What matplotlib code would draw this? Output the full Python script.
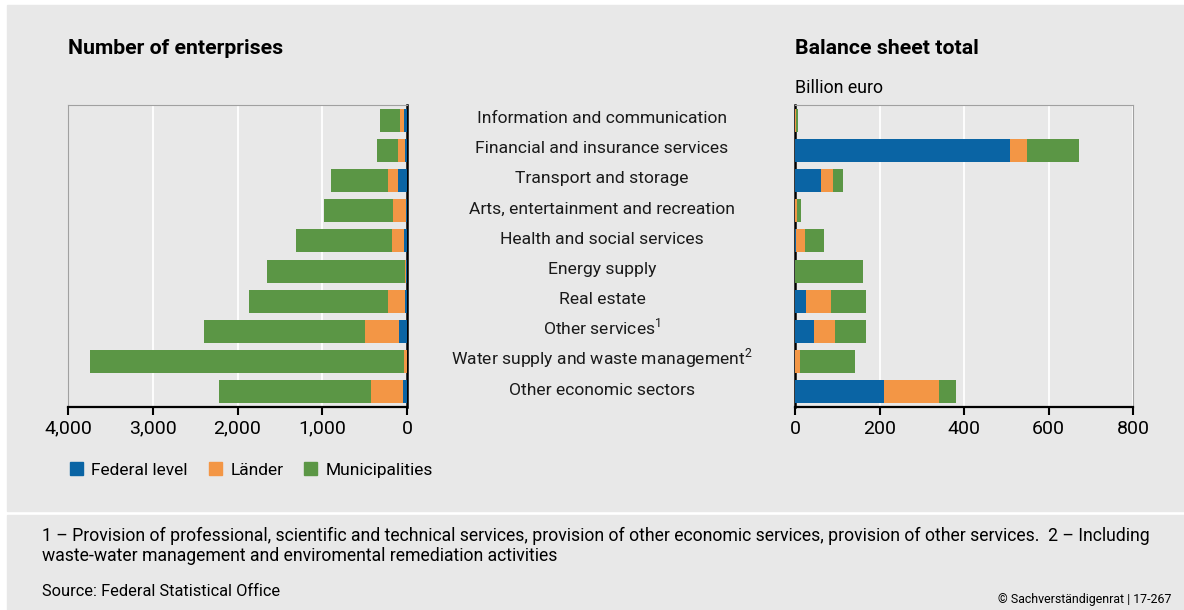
import matplotlib.pyplot as plt
import matplotlib.transforms as mtransforms
from matplotlib.patches import Rectangle
import numpy as np

plt.rcParams['font.family'] = ['Roboto', 'DejaVu Sans']
plt.rcParams['mathtext.fontset'] = 'custom'
plt.rcParams['mathtext.rm'] = 'Roboto'

categories = [
    "Information and communication",
    "Financial and insurance services",
    "Transport and storage",
    "Arts, entertainment and recreation",
    "Health and social services",
    "Energy supply",
    "Real estate",
    "Other services$^1$",
    "Water supply and waste management$^2$",
    "Other economic sectors",
]

# number of enterprises
ent_federal = [30, 20, 102, 12, 31, 8, 24, 90, 5, 43]
ent_laender = [48, 82, 117, 149, 141, 16, 195, 400, 26, 376]
ent_munic = [235, 247, 682, 822, 1140, 1629, 1646, 1904, 3714, 1798]

# balance sheet total, billion euro
bal_federal = [0, 508, 62, 0, 3, 0, 27, 46, 1, 211]
bal_laender = [2, 40, 28, 5, 21, 1, 59, 49, 11, 129]
bal_munic = [6, 125, 24, 10, 45, 160, 82, 73, 130, 40]

series_names = ["Federal level", "Länder", "Municipalities"]
colors = ["#0a64a4", "#f39645", "#5b9645"]
bg = "#e8e8e8"

fig = plt.figure(figsize=(11.84, 6.10), dpi=100, facecolor="white")
W, H = 1184, 610
fig.patches.append(Rectangle((7 / W, 1 - 511 / H), 1, 506 / H,
                             transform=fig.transFigure, color=bg, zorder=-10))
fig.patches.append(Rectangle((7 / W, 0), 1, 95 / H,
                             transform=fig.transFigure, color=bg, zorder=-10))

ax1 = fig.add_axes([68 / W, 1 - 407 / H, 339 / W, 302 / H])
ax2 = fig.add_axes([795 / W, 1 - 407 / H, 338 / W, 302 / H])

y = np.arange(len(categories))
bh = 0.76


def stacked(ax, parts):
    left = np.zeros(len(categories))
    for vals, c in zip(parts, colors):
        vals = np.array(vals, dtype=float)
        ax.barh(y, vals, left=left, height=bh, color=c, zorder=3)
        left += vals


stacked(ax1, [ent_federal, ent_laender, ent_munic])
stacked(ax2, [bal_federal, bal_laender, bal_munic])

ax1.set_xlim(4000, 0)
ax1.set_xticks([4000, 3000, 2000, 1000, 0])
ax1.set_xticklabels(["4,000", "3,000", "2,000", "1,000", "0"])
ax2.set_xlim(0, 800)
ax2.set_xticks([0, 200, 400, 600, 800])

for ax, zero_side, far_side in [(ax1, 'right', 'left'), (ax2, 'left', 'right')]:
    ax.set_facecolor(bg)
    ax.set_ylim(len(categories) - 0.5, -0.5)
    ax.set_yticks([])
    ax.grid(axis='x', color='white', linewidth=1.3, zorder=0)
    ax.tick_params(axis='x', direction='out', length=6, width=1.5,
                   labelsize=14, color='black', pad=3)
    ax.spines['bottom'].set_linewidth(1.6)
    ax.spines['bottom'].set_color('black')
    ax.spines[zero_side].set_linewidth(1.8)
    ax.spines[zero_side].set_color('black')
    ax.spines[zero_side].set_zorder(2)
    ax.spines[far_side].set_color('#a0a0a0')
    ax.spines['top'].set_color('#a0a0a0')

# category labels between the two panels, baseline a little below bar centre
trans = mtransforms.blended_transform_factory(fig.transFigure, ax1.transData)
trans = trans + mtransforms.ScaledTranslation(0, -0.03, fig.dpi_scale_trans)
for i, name in enumerate(categories):
    fig.text(602 / W, i, name, transform=trans, ha='center', va='baseline',
             fontsize=12.6, color='#1a1a1a')

fig.text(68 / W, 1 - 48 / H, "Number of enterprises", fontsize=15.3,
         fontweight='bold', va='center')
fig.text(795 / W, 1 - 48 / H, "Balance sheet total", fontsize=15.3,
         fontweight='bold', va='center')
fig.text(795 / W, 1 - 88 / H, "Billion euro", fontsize=12.8, va='center')

handles = [Rectangle((0, 0), 1, 1, color=c) for c in colors]
fig.legend(handles, series_names, loc='center left',
           bbox_to_anchor=(54 / W, 1 - 470 / H), frameon=False, ncol=3,
           fontsize=12.5, handlelength=0.75, handleheight=0.75,
           handletextpad=0.5, columnspacing=1.2)

fig.text(42 / W, 1 - 536 / H,
         "1 – Provision of professional, scientific and technical services, "
         "provision of other economic services, provision of other services.  "
         "2 – Including", fontsize=12.7, va='center')
fig.text(42 / W, 1 - 556 / H,
         "waste-water management and enviromental remediation activities",
         fontsize=12.7, va='center')
fig.text(42 / W, 1 - 592 / H, "Source: Federal Statistical Office",
         fontsize=11.8, va='center')
fig.text(1172 / W, 1 - 600 / H, "© Sachverständigenrat | 17-267",
         fontsize=8.9, ha='right', va='center')

fig.savefig("out.png", dpi=100, facecolor=fig.get_facecolor())
